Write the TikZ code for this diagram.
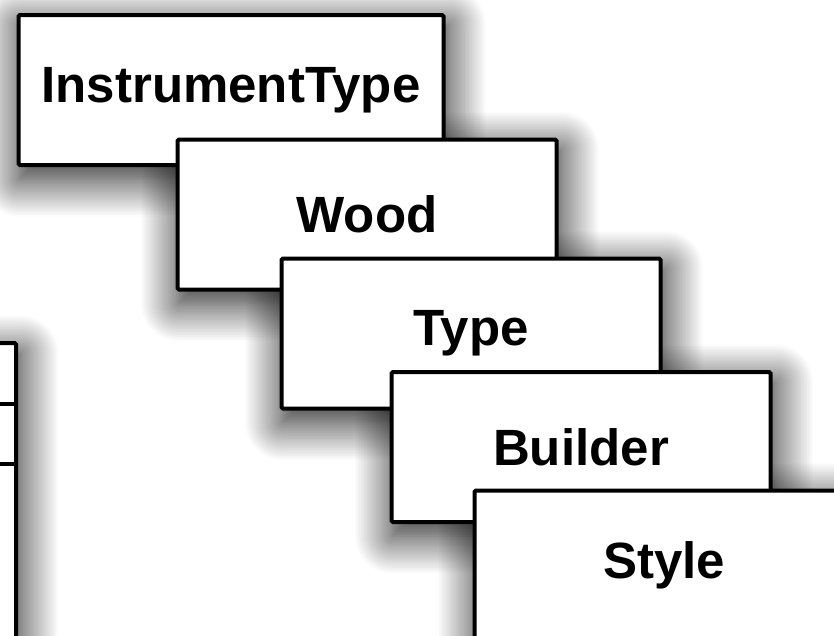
\documentclass[tikz,border=0pt]{standalone}
\usepackage{fontspec}
\setmainfont{Liberation Sans}
\usetikzlibrary{shadows.blur, backgrounds}

\begin{document}
\begin{tikzpicture}[x=1pt,y=-1pt,
    shade/.style={blur shadow={shadow xshift=3pt, shadow yshift=-12pt, shadow blur radius=38pt, shadow blur steps=25, shadow opacity=90}},
    tbl/.style={draw, line width=4pt, fill=white, rounded corners=1.5pt, inner sep=0pt,
      minimum width=379pt, minimum height=150pt, font=\fontsize{51}{60}\selectfont\bfseries}]

    \clip (0,0) rectangle (834,635);

    % class box cut off at the left edge
    \node (cls) [draw, line width=4pt, fill=white, rounded corners=1.5pt, minimum width=120pt, minimum height=360pt] at (-44,523) {};
    \draw[line width=4pt] (cls.west |- 0,404) -- (cls.east |- 0,404);
    \draw[line width=4pt] (cls.west |- 0,464) -- (cls.east |- 0,464);

    \node (insttype) [tbl, minimum width=425pt] at (231,90) {InstrumentType};
    \node (wood) [tbl] at (367,214.5) {Wood};
    \node (type) [tbl] at (471,333.5) {Type};
    \node (builder) [tbl] at (581,447) {Builder};
    \node (style) [tbl] at (664,565.5) {Style};

    % shadows behind all boxes
    \begin{pgfonlayer}{background}
    \foreach \n in {cls,insttype,wood,type,builder,style}
      \path[shade] (\n.south west) rectangle (\n.north east);
    \end{pgfonlayer}

\end{tikzpicture}
\end{document}
